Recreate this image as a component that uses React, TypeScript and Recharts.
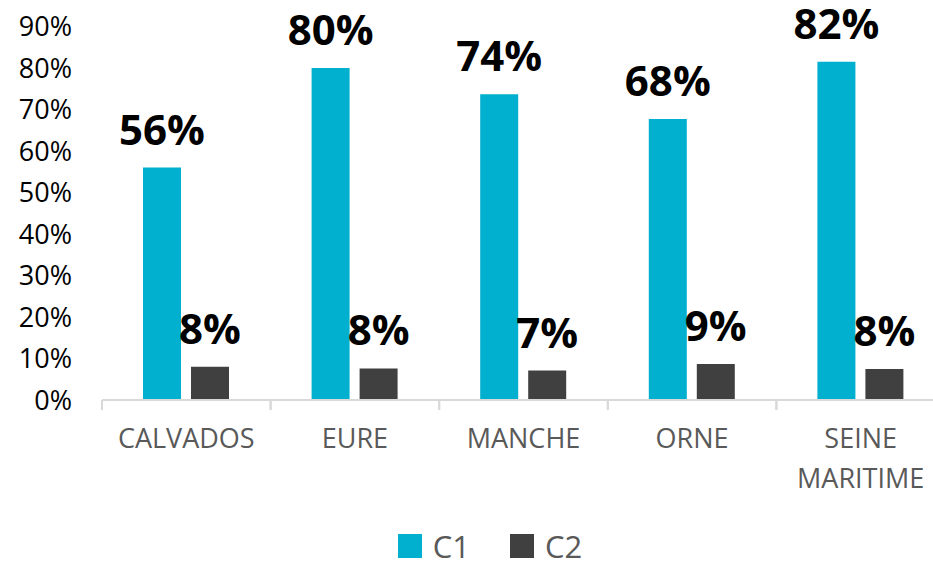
import React from "react";
import { BarChart, Bar, XAxis, YAxis, LabelList, Legend } from "recharts";

const categories = ["CALVADOS", "EURE", "MANCHE", "ORNE", "SEINE MARITIME"];
const c1Values = [0.56, 0.8, 0.737, 0.677, 0.815];
const c2Values = [0.08, 0.076, 0.071, 0.087, 0.075];
const c1Labels = ["56%", "80%", "74%", "68%", "82%"];
const c2Labels = ["8%", "8%", "7%", "9%", "8%"];
const yTicks = [0, 0.1, 0.2, 0.3, 0.4, 0.5, 0.6, 0.7, 0.8, 0.9];

const C1_COLOR = "#00B0CE";
const C2_COLOR = "#404040";
const FONT = "'Open Sans', 'Noto Sans', sans-serif";

const data = categories.map((name, i) => ({
  name,
  C1: c1Values[i],
  C2: c2Values[i],
  l1: c1Labels[i],
  l2: c2Labels[i],
}));

const XTick = (props: any) => {
  const { x, y, payload } = props;
  const words = String(payload.value).split(" ");
  const lines = words.length > 1 ? words : [payload.value];
  const half = payload && payload.offset ? payload.offset : 0;
  return (
    <g>
      <line x1={x - half} x2={x - half} y1={y} y2={y + 10} stroke="#D9D9D9" strokeWidth={2} />
      <line x1={x + half} x2={x + half} y1={y} y2={y + 10} stroke="#D9D9D9" strokeWidth={2} />
      <text x={x} y={y} textAnchor="middle" fill="#595959" fontFamily={FONT} fontSize={27}>
        {lines.map((l: string, i: number) => (
          <tspan key={i} x={x} dy={i === 0 ? 48 : 40}>
            {l}
          </tspan>
        ))}
      </text>
    </g>
  );
};

const LegendContent = () => (
  <div style={{ display: "flex", justifyContent: "center", alignItems: "center", fontFamily: FONT, fontSize: 31, color: "#595959" }}>
    {[
      { name: "C1", color: C1_COLOR },
      { name: "C2", color: C2_COLOR },
    ].map((e, i) => (
      <div key={e.name} style={{ display: "flex", alignItems: "center", marginLeft: i === 0 ? 0 : 40 }}>
        <div style={{ width: 24, height: 24, background: e.color, marginRight: 11 }} />
        <span>{e.name}</span>
      </div>
    ))}
  </div>
);

export default function App() {
  return (
    <div style={{ position: "fixed", left: 0, top: 0, width: 933, height: 566, overflow: "hidden", background: "#fff" }}>
      <BarChart
        width={945}
        height={566}
        data={data}
        margin={{ top: 26.5, right: 0, bottom: 66, left: 0 }}
        barGap={10}
        barSize={38}
      >
        <XAxis
          dataKey="name"
          height={100}
          interval={0}
          axisLine={{ stroke: "#D9D9D9", strokeWidth: 2 }}
          tickLine={false}
          tickSize={0}
          tickMargin={0}
          tick={<XTick />}
        />
        <YAxis
          width={102}
          domain={[0, 0.9]}
          ticks={yTicks}
          axisLine={false}
          tickLine={false}
          tickSize={0}
          tickMargin={30}
          tickFormatter={(v: number) => `${Math.round(v * 100)}%`}
          tick={{ fill: "#000000", fontFamily: FONT, fontSize: 27 }}
        />
        <Legend
          verticalAlign="middle"
          layout="horizontal"
          content={<LegendContent />}
          wrapperStyle={{ top: 525, left: 0, width: 980 }}
        />
        <Bar dataKey="C1" fill={C1_COLOR} isAnimationActive={false}>
          <LabelList dataKey="l1" position="top" offset={23} fill="#000" fontFamily={FONT} fontSize={42} fontWeight={700} />
        </Bar>
        <Bar dataKey="C2" fill={C2_COLOR} isAnimationActive={false}>
          <LabelList dataKey="l2" position="top" offset={23} fill="#000" fontFamily={FONT} fontSize={42} fontWeight={700} />
        </Bar>
      </BarChart>
    </div>
  );
}
